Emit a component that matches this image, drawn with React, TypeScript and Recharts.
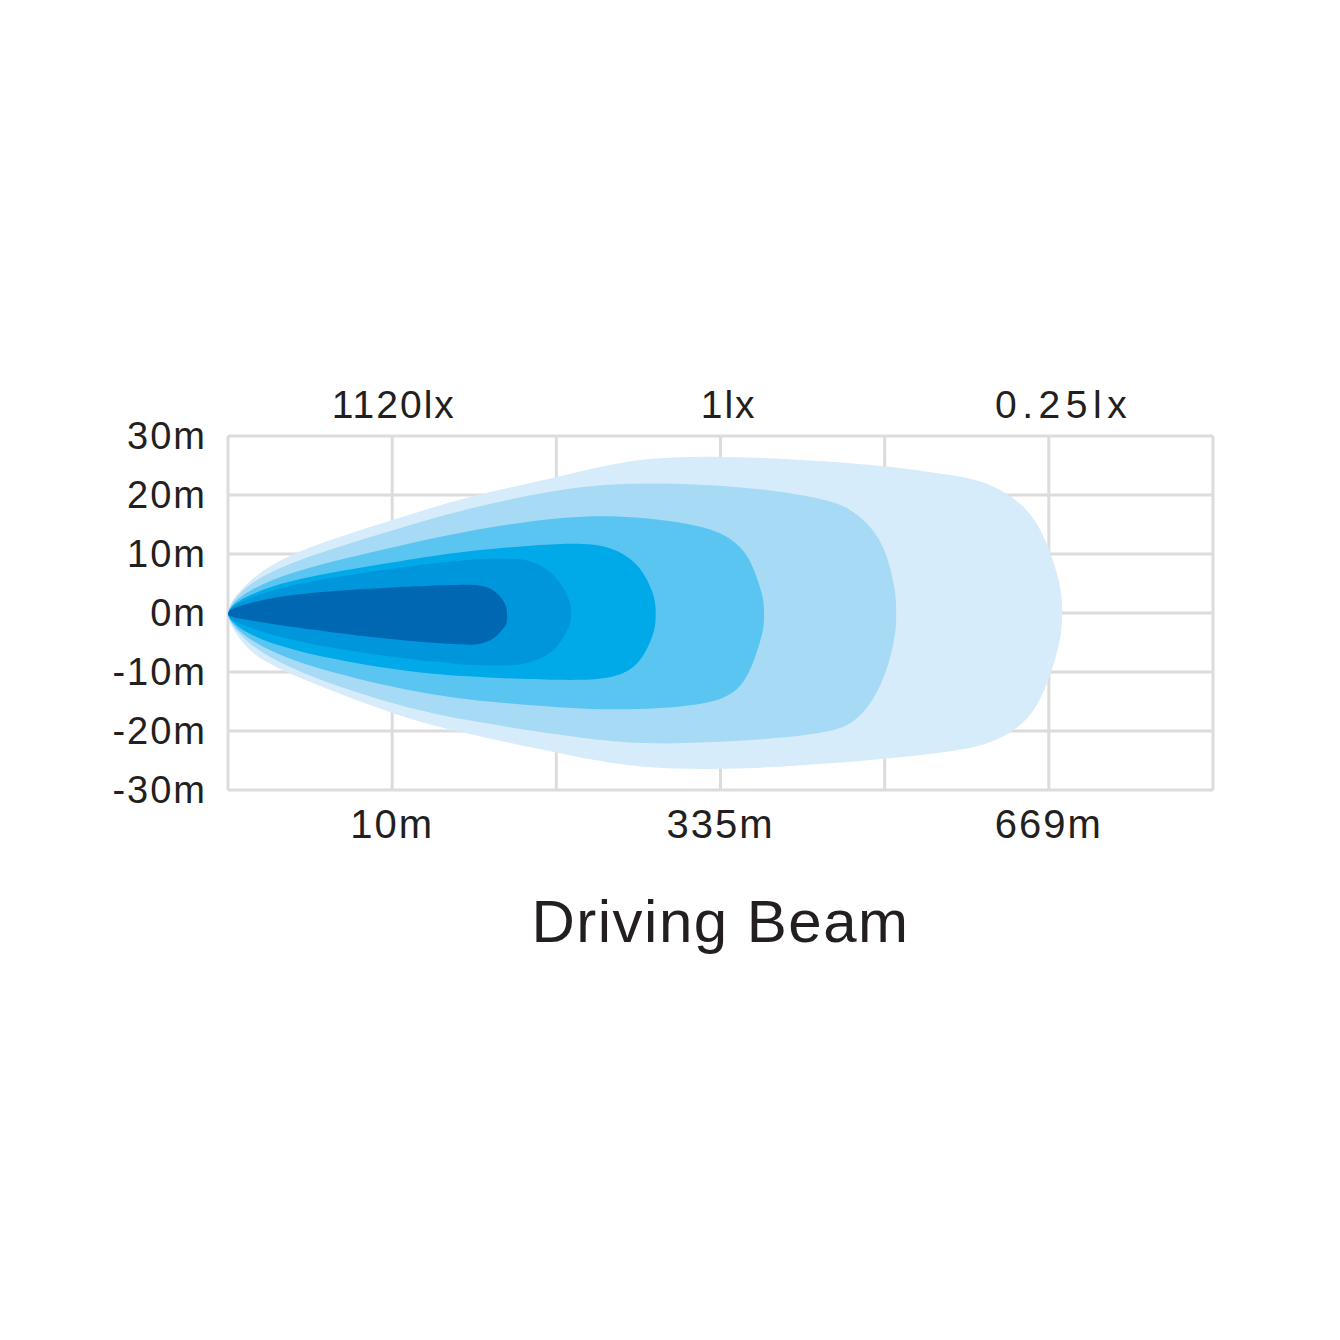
import { Area, CartesianGrid, ComposedChart, XAxis, YAxis } from "recharts";

// beam outlines: [position, lower edge (m), upper edge (m)]
const beam025lx = [
  [0, -0.2, -0.2],
  [0.01, -1.8, 1.5],
  [0.061, -4.0, 3.4],
  [0.164, -7.5, 6.4],
  [0.408, -10.8, 10.6],
  [1.011, -17.3, 15.8],
  [1.419, -20.3, 19.5],
  [2.071, -24.1, 23.4],
  [2.51, -26.4, 26.5],
  [3.12, -26.6, 26.6],
  [3.93, -25.0, 25.3],
  [4.44, -23.4, 23.3],
  [4.65, -22.2, 22.0],
  [4.86, -18.8, 18.2],
  [4.97, -13.8, 13.4],
  [5.05, -7.0, 7.0],
  [5.08, -3.0, 3.0],
  [5.08, 0, 0],
];

const beam05lx = [
  [0, -0.2, -0.2],
  [0.01, -1.6, 1.4],
  [0.122, -5.4, 5.1],
  [0.408, -10.0, 9.0],
  [1.011, -15.6, 14.1],
  [1.419, -18.1, 17.5],
  [2.071, -20.9, 21.4],
  [2.51, -22.4, 22.2],
  [3.12, -21.8, 21.6],
  [3.65, -20.4, 19.4],
  [3.81, -18.8, 17.4],
  [3.93, -15.0, 14.3],
  [4.014, -9.9, 10.2],
  [4.06, -4.5, 4.5],
  [4.07, -2.0, 2.0],
  [4.07, 0, 0],
];

const beam1lx = [
  [0, -0.2, -0.2],
  [0.01, -1.4, 1.2],
  [0.122, -4.6, 3.9],
  [0.408, -8.5, 7.3],
  [1.011, -12.7, 11.2],
  [1.419, -14.7, 13.8],
  [2.071, -16.2, 16.6],
  [2.51, -16.5, 16.4],
  [2.92, -15.5, 14.7],
  [3.08, -13.8, 12.4],
  [3.16, -11.0, 10.0],
  [3.21, -7.7, 7.0],
  [3.255, -3.6, 3.2],
  [3.265, -1.8, 1.4],
  [3.265, -0.3, -0.3],
];

const beam3lx = [
  [0, -0.2, -0.2],
  [0.01, -1.2, 1.0],
  [0.122, -3.7, 3.1],
  [0.408, -6.6, 5.9],
  [1.011, -9.7, 8.6],
  [1.419, -10.8, 10.5],
  [2.071, -11.5, 12.0],
  [2.31, -11.2, 11.5],
  [2.45, -9.9, 9.4],
  [2.53, -7.5, 7.0],
  [2.59, -3.9, 3.5],
  [2.605, -1.6, 1.3],
  [2.605, -0.3, -0.3],
];

const beam10lx = [
  [0, -0.2, -0.2],
  [0.01, -1.0, 0.8],
  [0.122, -2.5, 2.5],
  [0.408, -4.9, 5.1],
  [1.011, -7.6, 7.6],
  [1.419, -8.8, 9.0],
  [1.7, -9.0, 9.3],
  [1.827, -8.6, 9.1],
  [1.95, -7.2, 7.4],
  [2.028, -5.1, 5.2],
  [2.08, -2.2, 2.2],
  [2.09, -1.2, 1.0],
  [2.09, -0.2, -0.2],
];

const beam1120lx = [
  [0, -0.2, -0.2],
  [0.005, -0.6, 0.6],
  [0.122, -1.2, 1.7],
  [0.408, -2.5, 3.4],
  [1.011, -4.6, 4.4],
  [1.419, -5.4, 4.8],
  [1.53, -5.4, 4.8],
  [1.626, -4.4, 4.0],
  [1.687, -2.3, 1.8],
  [1.7, -1.6, 0.6],
  [1.7, -0.6, -0.6],
];

const yTicks = [-30, -20, -10, 0, 10, 20, 30];
const gridColumns = [0, 1, 2, 3, 4, 5, 6];
const distanceTicks = [1, 3, 5];
const distanceLabels = ["10m", "335m", "669m"];
const luxTicks = [1.01, 3.05, 5.09];
const luxLabels = ["1120lx", "1lx", "0.25lx"];

const layers = [
  { name: "0.25lx", points: beam025lx, color: "#d6ecfa" },
  { name: "0.5lx", points: beam05lx, color: "#a6daf5" },
  { name: "1lx", points: beam1lx, color: "#5bc5f1" },
  { name: "3lx", points: beam3lx, color: "#00a9e7" },
  { name: "10lx", points: beam10lx, color: "#0096db" },
  { name: "1120lx", points: beam1120lx, color: "#0067b2" },
];

const ink = "#231f20";
const font = "'Liberation Sans', Arial, sans-serif";

function LuxTick(props: any) {
  const { x, y, index } = props;
  const label = luxLabels[index] ?? "";
  return (
    <text
      x={x}
      y={y}
      textAnchor="middle"
      fontSize={39}
      fill={ink}
      fontFamily={font}
      letterSpacing={label.includes(".") ? 5.5 : 2}
    >
      {label}
    </text>
  );
}

export default function App() {
  return (
    <div style={{ width: 1324, height: 1000, fontFamily: font }}>
      <ComposedChart
        width={1324}
        height={1000}
        margin={{ top: 368, right: 119, bottom: 158, left: 120 }}
      >
        <CartesianGrid stroke="#dcdcdc" strokeWidth={3} />
        <XAxis
          dataKey="x"
          type="number"
          domain={[0, 6]}
          ticks={gridColumns}
          height={60}
          tickLine={false}
          axisLine={false}
          tickSize={0}
          tickMargin={20}
          tick={{ fontSize: 40, fill: ink, fontFamily: font, letterSpacing: 2 }}
          tickFormatter={(v: number) => {
            const i = distanceTicks.indexOf(v);
            return i >= 0 ? distanceLabels[i] : "";
          }}
          label={{
            value: "Driving Beam",
            position: "bottom",
            offset: 49,
            fontSize: 60,
            fill: ink,
            fontFamily: font,
            letterSpacing: 1.5,
          }}
        />
        <XAxis
          xAxisId="top"
          dataKey="x"
          orientation="top"
          type="number"
          domain={[0, 6]}
          allowDataOverflow
          ticks={luxTicks}
          height={60}
          tickLine={false}
          axisLine={false}
          tickSize={0}
          tickMargin={18}
          tick={LuxTick}
        />
        <YAxis
          type="number"
          domain={[-30, 30]}
          ticks={yTicks}
          width={100}
          tickLine={false}
          axisLine={false}
          tickSize={0}
          tickMargin={21}
          tick={{ fontSize: 38, fill: ink, fontFamily: font, letterSpacing: 2 }}
          tickFormatter={(v: number) => `${v}m`}
        />
        {layers.map((layer, i) => (
          <Area
            key={layer.name}
            name={layer.name}
            xAxisId={i === 0 ? "top" : 0}
            data={layer.points.map(([x, low, high]) => ({ x, range: [low, high] }))}
            dataKey="range"
            type="basis"
            stroke="none"
            fill={layer.color}
            fillOpacity={1}
            isAnimationActive={false}
            activeDot={false}
            dot={false}
          />
        ))}
      </ComposedChart>
    </div>
  );
}
